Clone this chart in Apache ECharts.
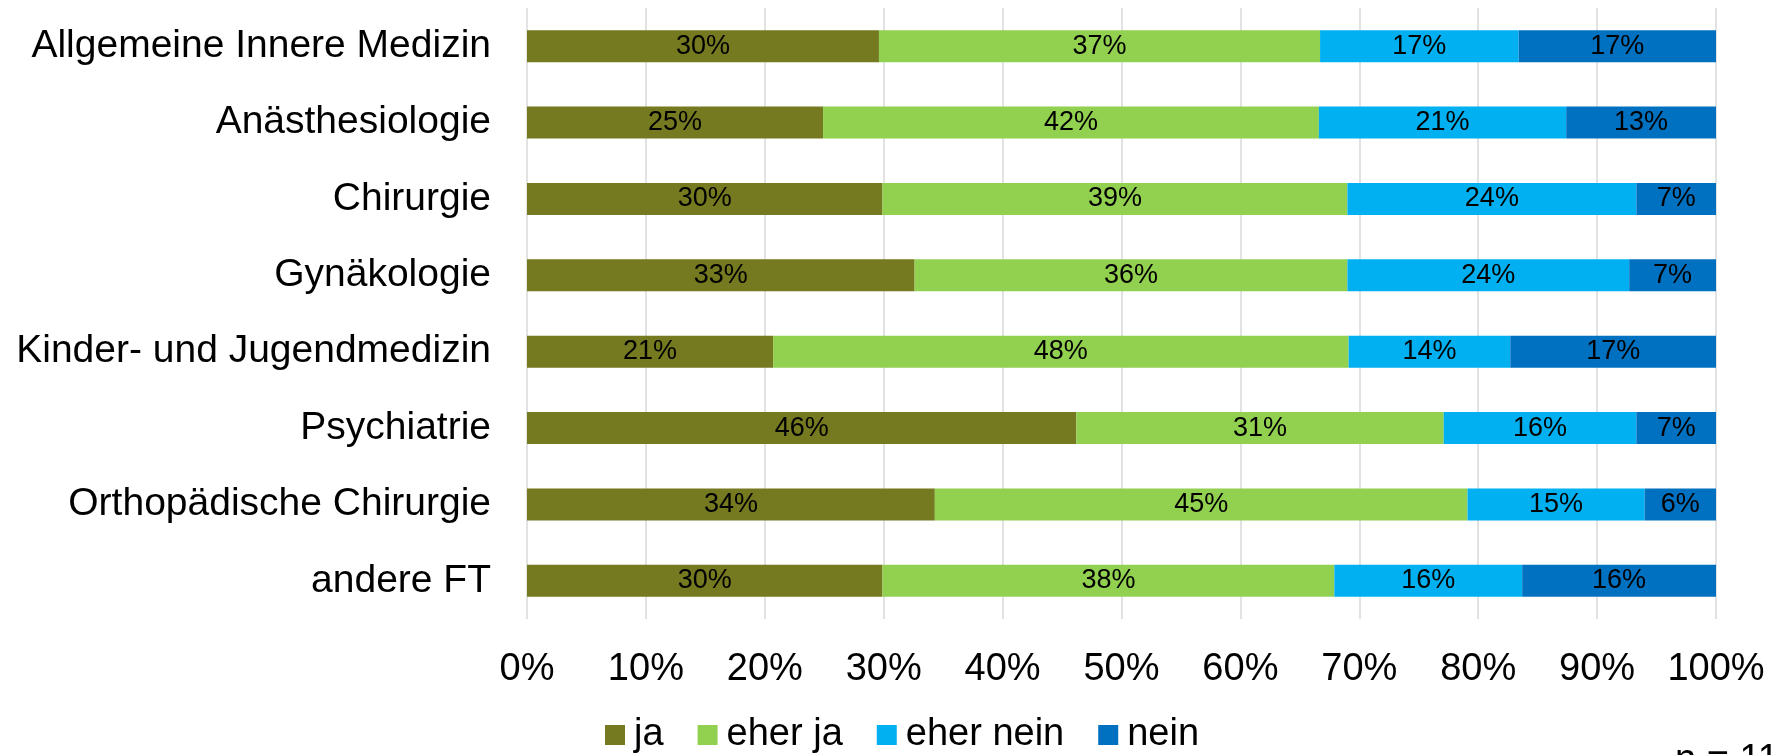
<!DOCTYPE html>
<html>
<head>
<meta charset="utf-8">
<script src="https://cdn.jsdelivr.net/npm/echarts@6/dist/echarts.min.js"></script>
<style>
html,body{margin:0;padding:0;background:#fff;}
#chart{width:1780px;height:755px;}
</style>
</head>
<body>
<div id="chart"></div>
<script>
const categories = [
  'Allgemeine Innere Medizin',
  'Anästhesiologie',
  'Chirurgie',
  'Gynäkologie',
  'Kinder- und Jugendmedizin',
  'Psychiatrie',
  'Orthopädische Chirurgie',
  'andere FT'
];
const seriesNames = ['ja', 'eher ja', 'eher nein', 'nein'];
const ja       = [29.6, 24.9, 29.9, 32.6, 20.7, 46.2, 34.3, 29.9];
const eherJa   = [37.1, 41.7, 39.1, 36.4, 48.4, 30.9, 44.8, 38.0];
const eherNein = [16.7, 20.8, 24.3, 23.7, 13.6, 16.2, 14.9, 15.8];
const nein     = [16.6, 12.6,  6.7,  7.3, 17.3,  6.7,  6.0, 16.3];
const colors = ['#75791F', '#92D050', '#00B0F0', '#0070C0'];
const footnote = 'n = 11';

const FONT = '"Liberation Sans", Arial, sans-serif';
const values = [ja, eherJa, eherNein, nein];

const chart = echarts.init(document.getElementById('chart'), null, {renderer: 'canvas'});
chart.setOption({
  animation: false,
  backgroundColor: '#ffffff',
  textStyle: {fontFamily: FONT},
  grid: {left: 527, right: 64, top: 8, bottom: 136},
  legend: {
    left: 600,
    top: 711,
    icon: 'rect',
    itemWidth: 20,
    itemHeight: 20,
    itemGap: 34,
    data: seriesNames,
    textStyle: {fontSize: 38, color: '#000', fontFamily: FONT, padding: [0, 0, 0, 4]}
  },
  xAxis: {
    type: 'value',
    min: 0,
    max: 100,
    interval: 10,
    axisLine: {show: false},
    axisTick: {show: false},
    splitLine: {show: true, lineStyle: {color: '#D9D9D9', width: 1.5}},
    axisLabel: {formatter: '{value}%', fontSize: 38, color: '#000', margin: 32, fontFamily: FONT}
  },
  yAxis: {
    type: 'category',
    inverse: true,
    data: categories,
    axisLine: {show: false},
    axisTick: {show: false},
    axisLabel: {fontSize: 39, color: '#000', margin: 36, fontFamily: FONT}
  },
  series: seriesNames.map((name, i) => ({
    name: name,
    type: 'bar',
    stack: 'total',
    barWidth: 32,
    itemStyle: {color: colors[i]},
    label: {
      show: true,
      position: 'inside',
      color: '#000',
      fontSize: 27,
      fontFamily: FONT,
      formatter: p => Math.round(p.value) + '%'
    },
    data: values[i]
  })),
  graphic: [{
    type: 'text',
    left: 1675,
    top: 742,
    style: {text: footnote, fontSize: 38, fill: '#000', font: '38px ' + FONT}
  }]
});
</script>
</body>
</html>
